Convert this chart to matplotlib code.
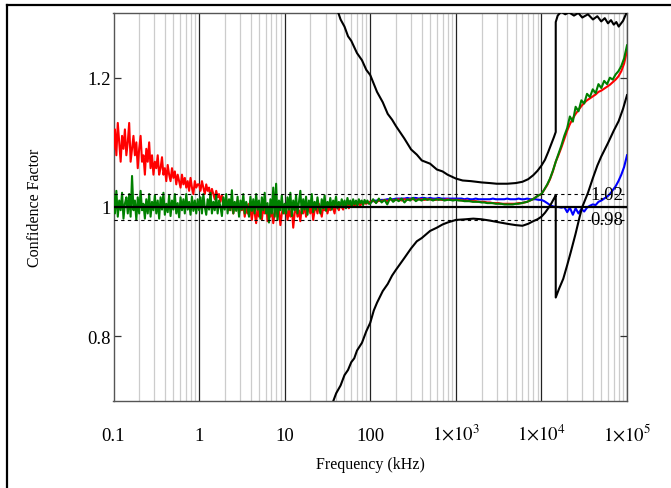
import matplotlib
matplotlib.use("Agg")
import matplotlib.pyplot as plt
from matplotlib.lines import Line2D

# ---------------- data ----------------
# fine grid (60 per decade) for the noisy low-frequency part, coarse (30) above
mant_fine = [1.000, 1.039, 1.080, 1.122, 1.166, 1.212, 1.259, 1.308, 1.359, 1.413,
             1.468, 1.525, 1.585, 1.647, 1.711, 1.778, 1.848, 1.920, 1.995, 2.073,
             2.154, 2.239, 2.326, 2.417, 2.512, 2.610, 2.712, 2.818, 2.929, 3.043,
             3.162, 3.286, 3.415, 3.548, 3.687, 3.831, 3.981, 4.137, 4.299, 4.467,
             4.642, 4.823, 5.012, 5.208, 5.412, 5.623, 5.843, 6.072, 6.310, 6.556,
             6.813, 7.079, 7.356, 7.644, 7.943, 8.254, 8.577, 8.913, 9.261, 9.624]
mant_coarse = [1.0, 1.08, 1.17, 1.26, 1.36, 1.47, 1.58, 1.71, 1.85, 2.0,
               2.15, 2.33, 2.51, 2.71, 2.93, 3.16, 3.41, 3.69, 3.98, 4.3,
               4.64, 5.01, 5.41, 5.85, 6.31, 6.81, 7.36, 7.94, 8.58, 9.26]
decades_fine = [0.1, 1, 10]
decades_coarse = [100, 1000, 10000]
freq = ([m * d for d in decades_fine for m in mant_fine]
        + [m * d for d in decades_coarse for m in mant_coarse] + [100000])

red = [
    # 0.1 - 1 kHz
    1.09, 1.12, 1.08, 1.13, 1.10, 1.07, 1.11, 1.09, 1.12, 1.08,
    1.10, 1.13, 1.07, 1.09, 1.11, 1.08, 1.10, 1.06, 1.09, 1.11,
    1.07, 1.08, 1.05, 1.09, 1.07, 1.10, 1.06, 1.08, 1.05, 1.07,
    1.06, 1.08, 1.05, 1.06, 1.077, 1.05, 1.06, 1.04, 1.065, 1.05,
    1.04, 1.06, 1.045, 1.055, 1.035, 1.05, 1.04, 1.03, 1.05, 1.035,
    1.045, 1.03, 1.04, 1.025, 1.045, 1.03, 1.02, 1.04, 1.03, 1.035,
    # 1 - 10 kHz
    1.035, 1.025, 1.04, 1.03, 1.02, 1.035, 1.025, 1.03, 1.015, 1.028,
    1.02, 1.012, 1.025, 1.015, 1.02, 1.008, 1.018, 1.01, 1.0, 1.012,
    1.005, 0.995, 1.01, 1.0, 0.99, 1.005, 0.998, 1.01, 0.99, 1.0,
    0.995, 1.005, 0.985, 1.0, 0.99, 1.005, 0.995, 0.98, 1.0, 0.99,
    0.975, 1.0, 0.985, 0.995, 0.98, 1.0, 0.99, 1.005, 0.978, 0.995,
    0.985, 1.0, 0.975, 0.99, 1.0, 0.985, 0.995, 0.972, 0.99, 1.0,
    # 10 - 100 kHz
    0.99, 1.0, 0.98, 0.995, 0.985, 1.0, 0.968, 0.99, 1.0, 0.985,
    0.995, 0.978, 1.0, 0.99, 1.005, 0.985, 0.995, 1.0, 0.99, 1.005,
    0.98, 0.995, 1.0, 0.99, 1.005, 0.995, 0.985, 1.0, 0.995, 1.005,
    0.99, 1.0, 0.995, 1.005, 0.998, 0.99, 1.005, 1.0, 0.995, 1.005,
    1.0, 0.996, 1.006, 1.0, 1.005, 0.998, 1.004, 1.002, 1.006, 1.0,
    1.005, 1.003, 1.007, 1.002, 1.006, 1.004, 1.007, 1.005, 1.006, 1.007,
    # 100 - 1000 kHz
    1.008, 1.01, 1.007, 1.01, 1.009, 1.011, 1.009, 1.012, 1.01, 1.011,
    1.012, 1.01, 1.012, 1.011, 1.012, 1.012, 1.011, 1.012, 1.012, 1.011,
    1.012, 1.012, 1.011, 1.011, 1.012, 1.011, 1.011, 1.012, 1.011, 1.011,
    # 1e3 - 1e4 kHz
    1.011, 1.011, 1.01, 1.01, 1.01, 1.009, 1.009, 1.009, 1.008, 1.008,
    1.008, 1.007, 1.007, 1.006, 1.006, 1.006, 1.005, 1.005, 1.005, 1.005,
    1.005, 1.005, 1.006, 1.006, 1.007, 1.008, 1.01, 1.012, 1.015, 1.018,
    # 1e4 - 1e5 kHz
    1.02, 1.027, 1.034, 1.043, 1.055, 1.07, 1.08, 1.092, 1.105, 1.118,
    1.128, 1.137, 1.144, 1.15, 1.156, 1.161, 1.165, 1.168, 1.171, 1.174,
    1.178, 1.18, 1.183, 1.186, 1.189, 1.193, 1.197, 1.202, 1.21, 1.222,
    1.242]

green = [
    # 0.1 - 1 kHz
    1.02, 0.99, 1.025, 0.985, 1.01, 0.995, 1.022, 0.982, 1.005, 1.015,
    0.99, 1.02, 0.985, 1.048, 0.995, 1.01, 0.98, 1.015, 0.99, 1.025,
    0.995, 1.005, 0.982, 1.012, 0.99, 1.02, 0.985, 1.008, 0.995, 1.018,
    0.99, 1.01, 0.982, 1.015, 0.996, 1.022, 0.988, 1.005, 0.992, 1.018,
    0.986, 1.01, 0.996, 1.02, 0.99, 1.006, 0.984, 1.015, 0.995, 1.012,
    0.99, 1.02, 0.996, 1.008, 0.988, 1.016, 0.994, 1.01, 0.99, 1.012,
    # 1 - 10 kHz
    0.995, 1.015, 0.99, 1.02, 1.0, 0.988, 1.012, 0.996, 1.022, 0.99,
    1.008, 0.995, 1.018, 0.99, 1.01, 1.0, 0.986, 1.015, 0.996, 1.02,
    0.99, 1.012, 0.995, 1.026, 0.99, 1.008, 0.994, 1.016, 0.985, 1.01,
    0.996, 1.02, 0.99, 1.008, 1.0, 0.985, 1.016, 0.994, 1.012, 0.99,
    1.02, 0.996, 1.01, 0.982, 1.015, 0.995, 1.022, 0.99, 1.006, 0.976,
    1.012, 0.99, 1.03, 0.985, 1.036, 0.98, 1.01, 0.995, 1.018, 0.99,
    # 10 - 100 kHz
    1.005, 0.99, 1.015, 0.996, 1.022, 0.986, 1.01, 0.995, 1.018, 0.99,
    1.008, 1.025, 0.99, 1.012, 0.996, 1.016, 0.988, 1.01, 1.0, 1.02,
    0.992, 1.008, 0.996, 1.015, 1.0, 0.99, 1.012, 0.998, 1.018, 0.994,
    1.008, 1.0, 1.014, 0.996, 1.01, 1.002, 1.016, 0.998, 1.008, 1.0,
    1.012, 1.002, 1.01, 0.998, 1.014, 1.004, 1.01, 1.0, 1.012, 1.004,
    1.01, 1.002, 1.012, 1.006, 1.01, 1.003, 1.011, 1.006, 1.01, 1.005,
    # 100 - 1000 kHz
    1.005, 1.012, 1.006, 1.013, 1.007, 1.011, 1.004, 1.014, 1.008, 1.012,
    1.009, 1.013, 1.007, 1.012, 1.01, 1.014, 1.009, 1.012, 1.01, 1.013,
    1.011, 1.012, 1.01, 1.012, 1.011, 1.012, 1.01, 1.011, 1.011, 1.01,
    # 1e3 - 1e4 kHz
    1.011, 1.01, 1.01, 1.009, 1.009, 1.009, 1.008, 1.008, 1.008, 1.007,
    1.007, 1.006, 1.006, 1.006, 1.005, 1.005, 1.005, 1.004, 1.004, 1.004,
    1.004, 1.005, 1.005, 1.006, 1.007, 1.008, 1.01, 1.012, 1.015, 1.018,
    # 1e4 - 1e5 kHz
    1.02, 1.027, 1.035, 1.044, 1.056, 1.07, 1.082, 1.095, 1.11, 1.122,
    1.14, 1.132, 1.155, 1.148, 1.165, 1.16, 1.175, 1.17, 1.182, 1.176,
    1.19, 1.184, 1.195, 1.19, 1.2, 1.197, 1.205, 1.21, 1.218, 1.23,
    1.25]

freq_blue = freq[180:]
blue = [
    1.008, 1.009, 1.01, 1.01, 1.011, 1.011, 1.012, 1.012, 1.012, 1.013,
    1.013, 1.013, 1.013, 1.014, 1.013, 1.014, 1.014, 1.013, 1.014, 1.014,
    1.013, 1.014, 1.013, 1.013, 1.014, 1.013, 1.013, 1.013, 1.013, 1.013,
    1.013, 1.013, 1.013, 1.012, 1.013, 1.012, 1.012, 1.013, 1.012, 1.012,
    1.012, 1.012, 1.012, 1.013, 1.012, 1.012, 1.012, 1.012, 1.013, 1.012,
    1.012, 1.012, 1.013, 1.012, 1.012, 1.013, 1.012, 1.012, 1.012, 1.011,
    1.011, 1.009, 1.006, 1.003, 1.001, 1.0, 1.0, 0.999, 1.0, 0.992,
    0.999, 0.988, 0.998, 0.99, 0.997, 0.993, 0.999, 1.002, 1.004, 1.003,
    1.008, 1.01, 1.013, 1.016, 1.02, 1.026, 1.032, 1.04, 1.05, 1.062,
    1.08]

freq_upper = [40, 45, 50, 55, 60, 70, 80, 90, 100, 120, 140, 160, 180, 200,
              250, 300, 350, 400, 500, 600, 700, 800, 1000, 1200, 1500, 2000,
              2500, 3000, 4000, 5000, 6000, 7000, 8000, 9000, 10000, 11000,
              12000, 13000, 14000, 14700, 14700, 15500, 17000, 19000, 21000,
              24000, 27000, 30000, 35000, 40000, 45000, 50000, 55000, 60000,
              65000, 70000, 75000, 80000, 90000, 100000]
upper = [1.31, 1.29, 1.279, 1.264, 1.257, 1.238, 1.227, 1.212, 1.204, 1.178,
         1.162, 1.144, 1.135, 1.125, 1.106, 1.089, 1.081, 1.072, 1.067, 1.058,
         1.055, 1.05, 1.044, 1.041, 1.04, 1.038, 1.037, 1.036, 1.036, 1.037,
         1.039, 1.043, 1.049, 1.056, 1.064, 1.073, 1.085, 1.097, 1.108, 1.116,
         1.286, 1.296, 1.302, 1.298, 1.301, 1.296, 1.3, 1.293, 1.298, 1.29,
         1.295, 1.287, 1.292, 1.284, 1.289, 1.282, 1.286, 1.279, 1.288, 1.302]

freq_lower = [35, 37, 40, 45, 50, 55, 60, 65, 70, 80, 90, 100, 110, 120, 140,
              160, 180, 200, 250, 300, 350, 400, 500, 600, 700, 800, 1000,
              1300, 1600, 2000, 2500, 3000, 4000, 5000, 6000, 7000, 8000,
              9000, 10000, 11000, 12000, 13000, 14000, 14700, 14700, 16000,
              18000, 20000, 22000, 25000, 28000, 30000, 35000, 40000, 45000,
              50000, 60000, 70000, 80000, 90000, 100000]
lower = [0.69, 0.70, 0.712, 0.724, 0.74, 0.748, 0.76, 0.766, 0.778, 0.79,
         0.808, 0.821, 0.84, 0.852, 0.87, 0.881, 0.894, 0.903, 0.921, 0.936,
         0.947, 0.952, 0.963, 0.968, 0.973, 0.976, 0.98, 0.981, 0.982, 0.981,
         0.979, 0.977, 0.974, 0.972, 0.971, 0.974, 0.978, 0.981, 0.985, 0.991,
         0.998, 1.005, 1.013, 1.018, 0.86, 0.873, 0.889, 0.91, 0.93, 0.958,
         0.985, 1.0, 1.022, 1.045, 1.064, 1.078, 1.099, 1.118, 1.133, 1.152,
         1.173]

xtick_vals = [0.1, 1, 10, 100, 1000, 10000, 100000]
xtick_labels = ["0.1", "1", "10", "100", r"$1{\times}10^{3}$",
                r"$1{\times}10^{4}$", r"$1{\times}10^{5}$"]
ytick_vals = [0.8, 1.0, 1.2]
ytick_labels = ["0.8", "1", "1.2"]
ref_levels = [0.98, 1.02]

# ---------------- plot ----------------
plt.rcParams["font.family"] = ["Liberation Serif", "DejaVu Serif"]
plt.rcParams["mathtext.fontset"] = "stix"

fig = plt.figure(figsize=(6.71, 4.89), dpi=100)
ax = fig.add_axes([113.5 / 671, 1 - 402 / 489, (627 - 113.5) / 671, (402 - 14) / 489])

ax.set_xscale("log")
ax.set_xlim(0.1, 1e5)
ax.set_ylim(0.7, 1.3)

ax.grid(True, which="minor", axis="x", color="#cccccc", lw=0.9, zorder=0)
ax.grid(True, which="major", axis="x", color="#222222", lw=0.9, zorder=0)
ax.set_axisbelow(True)

ax.plot(freq_blue, blue, color="#0000ff", lw=1.5, zorder=3)
ax.plot(freq, red, color="#ff0000", lw=1.5, zorder=4)
ax.plot(freq, green, color="#008000", lw=1.5, zorder=5)
ax.plot(freq_upper, upper, color="black", lw=1.5, zorder=6)
ax.plot(freq_lower, lower, color="black", lw=1.5, zorder=6)

ax.axhline(1.0, color="black", lw=1.6, zorder=7)
for lv in ref_levels:
    ax.axhline(lv, color="black", lw=0.8, ls=(0, (3, 3)), zorder=7)
    ax.text(0.992, lv, f"{lv:.2f}", transform=ax.get_yaxis_transform(),
            ha="right", va="center", fontsize=13.5, zorder=8)

ax.set_xticks(xtick_vals, xtick_labels, va="baseline", fontsize=13.5)
ax.set_yticks(ytick_vals, ytick_labels, fontsize=13.5)
ax.tick_params(axis="x", which="both", length=0, pad=28)
ax.tick_params(axis="y", which="both", direction="in", length=5, width=0.9,
               right=True, pad=2, color="#333333")

for sp in ax.spines.values():
    sp.set_color("#555555")
    sp.set_linewidth(1.0)

ax.set_xlabel("Frequency (kHz)", fontsize=11.5)
ax.xaxis.set_label_coords(0.5, (402 - 457) / 388.0)
ax.set_ylabel("Confidence Factor", fontsize=11.5)
ax.yaxis.set_label_coords((43 - 113.5) / 513.5, 0.5)

# figure frame (left and top edges visible)
fx = 6.5 / 671
fy = 1 - 5.5 / 489
fig.add_artist(Line2D([fx, fx], [0, fy], transform=fig.transFigure, color="black", lw=1.6))
fig.add_artist(Line2D([fx, 1.0], [fy, fy], transform=fig.transFigure, color="black", lw=1.6))

fig.savefig("out.png", dpi=100)
